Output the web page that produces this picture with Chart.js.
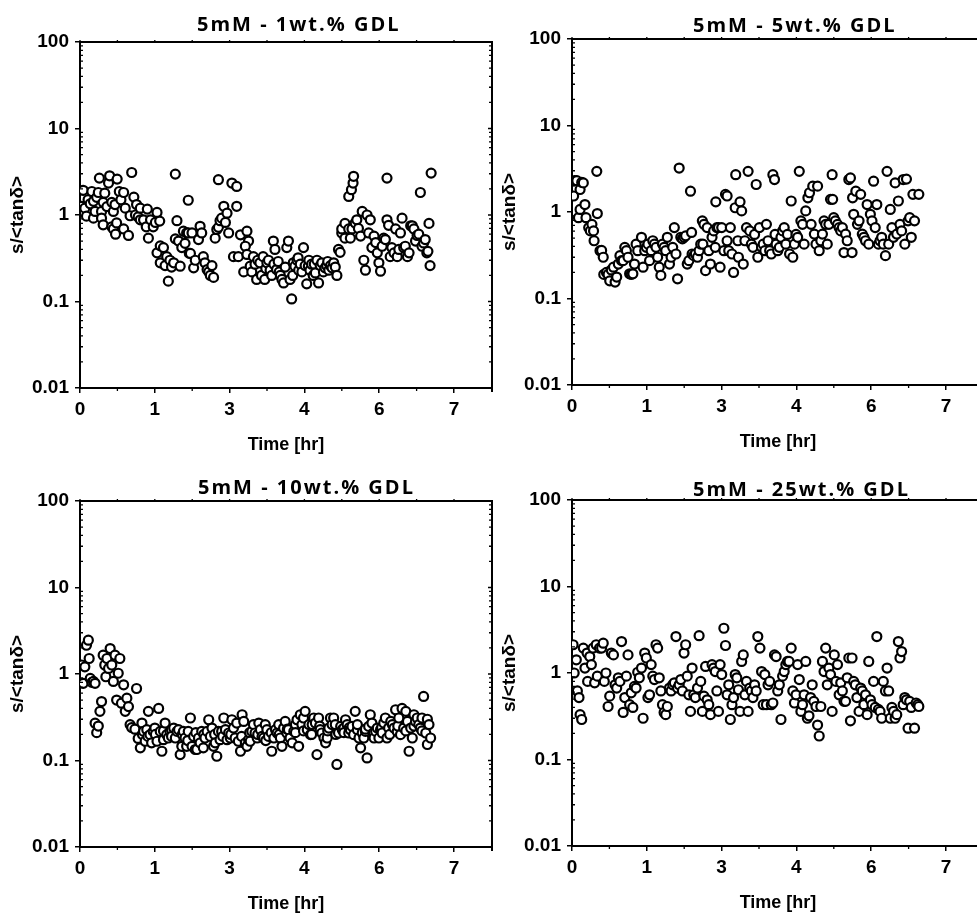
<!DOCTYPE html>
<html>
<head>
<meta charset="utf-8">
<title>s/&lt;tanδ&gt; vs time</title>
<script src="https://cdn.jsdelivr.net/npm/chart.js@4.4.1/dist/chart.umd.min.js"></script>
<style>
  html, body { margin: 0; padding: 0; background: #fff; overflow: hidden; }
  body { width: 977px; height: 918px; position: relative; }
  .panel { position: absolute; width: 500px; height: 470px; }
</style>
</head>
<body>
<div class="panel" style="left:0px;top:0px"><canvas id="p1" width="500" height="470"></canvas></div>
<div class="panel" style="left:492px;top:-3px"><canvas id="p2" width="500" height="470"></canvas></div>
<div class="panel" style="left:0px;top:459px"><canvas id="p3" width="500" height="470"></canvas></div>
<div class="panel" style="left:492px;top:458px"><canvas id="p4" width="500" height="470"></canvas></div>

<script>
// Axis ticks: one tick every 5000 s, labelled with the rounded hour
var tickSeconds = [0, 5000, 10000, 15000, 20000, 25000];
var tickLabels = ['0', '1', '3', '4', '6', '7'];
var yTicks = [0.01, 0.1, 1, 10, 100];
var yTickLabels = ['0.01', '0.1', '1', '10', '100'];

var panelTitles = ['5mM - 1wt.% GDL', '5mM - 5wt.% GDL', '5mM - 10wt.% GDL', '5mM - 25wt.% GDL'];

// [time in hours, s/<tan delta>]
var gdl1wt = [
  [0.03,1.26],[0.06,1.93],[0.09,1.2],[0.12,0.97],[0.15,1.5],[0.19,1.35],[0.22,1.87],[0.25,1.44],[0.25,0.92],[0.28,1.1],
  [0.31,1.6],[0.34,1.82],[0.36,2.67],[0.40,1.1],[0.40,0.92],[0.43,1.4],[0.43,0.77],[0.46,1.79],[0.50,1.25],[0.53,2.34],
  [0.55,2.84],[0.59,1.4],[0.59,0.73],[0.62,1.1],[0.62,0.69],[0.65,1.32],[0.66,0.6],[0.68,0.81],[0.69,2.6],[0.73,1.87],
  [0.76,1.5],[0.81,1.82],[0.81,0.69],[0.84,1.2],[0.90,0.58],[0.93,0.98],[0.96,3.1],[1.0,1.61],[1.03,1.0],[1.05,1.32],
  [1.08,0.95],[1.12,1.2],[1.12,0.88],[1.18,0.88],[1.23,0.73],[1.25,1.17],[1.27,0.54],[1.31,0.88],[1.36,0.73],[1.40,0.82],
  [1.43,1.07],[1.48,0.85],[1.43,0.365],[1.49,0.44],[1.49,0.28],[1.55,0.42],[1.58,0.26],[1.61,0.33],[1.64,0.172],[1.67,0.3],
  [1.70,0.25],[1.74,0.28],[1.77,2.97],[1.77,0.53],[1.80,0.86],[1.83,0.5],[1.86,0.256],[1.89,0.42],[1.92,0.65],[1.95,0.47],
  [1.98,0.62],[2.01,1.48],[2.01,0.62],[2.03,0.36],[2.05,0.36],[2.08,0.62],[2.11,0.245],[2.14,0.3],[2.20,0.52],[2.23,0.74],
  [2.26,0.62],[2.29,0.33],[2.32,0.28],[2.36,0.234],[2.39,0.22],[2.42,0.2],[2.45,0.26],[2.48,0.19],[2.51,0.54],[2.54,0.68],
  [2.57,0.72],[2.57,2.56],[2.60,0.86],[2.63,0.92],[2.67,1.26],[2.70,0.82],[2.73,1.05],[2.76,0.62],[2.82,2.34],[2.91,2.14],
  [2.91,1.26],[2.85,0.33],[2.94,0.33],[2.98,0.59],[3.10,0.65],[3.13,0.5],[3.07,0.435],[3.04,0.22],[3.10,0.35],[3.16,0.256],
  [3.19,0.22],[3.22,0.33],[3.25,0.27],[3.28,0.18],[3.30,0.3],[3.34,0.28],[3.37,0.2],[3.40,0.33],[3.43,0.18],[3.45,0.24],
  [3.47,0.28],[3.50,0.3],[3.53,0.23],[3.56,0.2],[3.59,0.5],[3.60,0.27],[3.62,0.4],[3.65,0.234],[3.68,0.29],[3.70,0.22],
  [3.72,0.2],[3.75,0.18],[3.78,0.164],[3.81,0.25],[3.84,0.42],[3.87,0.5],[3.90,0.18],[3.93,0.107],[3.95,0.2],[3.96,0.28],
  [3.99,0.256],[4.03,0.3],[4.05,0.32],[4.06,0.23],[4.09,0.27],[4.12,0.22],[4.15,0.42],[4.18,0.26],[4.21,0.16],[4.24,0.256],
  [4.25,0.3],[4.27,0.23],[4.30,0.27],[4.33,0.2],[4.35,0.27],[4.37,0.214],[4.40,0.3],[4.43,0.164],[4.46,0.26],[4.49,0.28],
  [4.52,0.22],[4.55,0.245],[4.58,0.26],[4.60,0.29],[4.62,0.23],[4.65,0.26],[4.68,0.245],[4.71,0.28],[4.74,0.25],[4.77,0.2],
  [4.80,0.4],[4.83,0.37],[4.86,0.62],[4.86,0.69],[4.92,0.8],[4.92,0.54],[4.99,0.69],[4.99,1.64],[5.04,1.96],[5.07,2.34],
  [5.08,2.8],[5.05,0.69],[5.02,0.54],[5.11,0.81],[5.14,0.88],[5.17,0.7],[5.21,0.57],[5.24,1.1],[5.27,0.3],[5.30,0.23],
  [5.33,1.0],[5.36,0.62],[5.39,0.88],[5.42,0.42],[5.46,0.57],[5.49,0.48],[5.52,0.365],[5.55,0.28],[5.58,0.224],[5.61,0.435],
  [5.64,0.54],[5.67,0.52],[5.70,0.88],[5.70,2.67],[5.73,0.76],[5.76,0.33],[5.79,0.42],[5.83,0.365],[5.86,0.69],[5.89,0.33],
  [5.92,0.4],[5.95,0.62],[5.98,0.92],[6.01,0.42],[6.04,0.435],[6.08,0.33],[6.11,0.365],[6.14,0.75],[6.17,0.75],[6.20,0.69],
  [6.23,0.5],[6.26,0.58],[6.29,0.6],[6.32,1.82],[6.35,0.435],[6.38,0.475],[6.41,0.52],[6.44,0.365],[6.46,0.38],[6.48,0.8],
  [6.50,0.26],[6.52,3.05]
];

var gdl5wt = [
  [0.03,1.53],[0.05,2.3],[0.09,2.3],[0.12,0.86],[0.15,1.82],[0.15,1.07],[0.18,2.2],[0.21,2.17],[0.24,1.22],[0.26,0.86],
  [0.31,0.66],[0.34,0.605],[0.37,0.72],[0.40,0.605],[0.41,0.465],[0.46,2.95],[0.47,0.96],[0.52,0.357],[0.55,0.36],[0.58,0.30],
  [0.59,0.19],[0.64,0.2],[0.67,0.19],[0.70,0.16],[0.73,0.214],[0.77,0.23],[0.80,0.155],[0.83,0.177],[0.86,0.25],[0.89,0.313],
  [0.92,0.274],[0.95,0.274],[0.98,0.39],[1.01,0.357],[1.04,0.30],[1.07,0.193],[1.10,0.19],[1.13,0.193],[1.16,0.25],[1.19,0.425],
  [1.22,0.357],[1.29,0.51],[1.32,0.23],[1.35,0.357],[1.38,0.39],[1.41,0.425],[1.44,0.274],[1.47,0.357],[1.50,0.465],[1.53,0.425],
  [1.56,0.39],[1.59,0.30],[1.62,0.23],[1.65,0.185],[1.68,0.425],[1.71,0.39],[1.74,0.357],[1.77,0.51],[1.81,0.25],[1.84,0.30],
  [1.87,0.39],[1.90,0.66],[1.93,0.327],[1.96,0.169],[1.99,3.22],[2.02,0.51],[2.05,0.49],[2.08,0.51],[2.11,0.53],[2.14,0.25],
  [2.17,0.274],[2.20,1.74],[2.22,0.58],[2.23,0.327],[2.26,0.313],[2.29,0.327],[2.33,0.30],[2.36,0.357],[2.39,0.425],[2.42,0.79],
  [2.43,0.425],[2.45,0.72],[2.48,0.21],[2.51,0.66],[2.54,0.357],[2.57,0.25],[2.60,0.51],[2.63,0.605],[2.66,0.39],[2.67,1.31],
  [2.69,0.66],[2.72,0.66],[2.75,0.23],[2.78,0.66],[2.82,0.357],[2.85,1.6],[2.88,1.53],[2.88,0.465],[2.91,0.357],[2.94,0.66],
  [2.97,0.327],[3.0,0.2],[3.03,1.12],[3.04,2.7],[3.08,0.465],[3.09,0.30],[3.12,1.31],[3.15,1.03],[3.18,0.25],[3.21,0.465],
  [3.24,0.66],[3.27,2.95],[3.30,0.605],[3.33,0.425],[3.36,0.39],[3.39,0.55],[3.42,2.08],[3.45,0.30],[3.48,0.66],[3.52,0.39],
  [3.55,0.425],[3.58,0.357],[3.61,0.72],[3.64,0.465],[3.67,0.357],[3.70,0.327],[3.73,2.7],[3.76,2.37],[3.77,0.55],[3.79,0.425],
  [3.82,0.357],[3.85,0.39],[3.88,0.51],[3.91,0.605],[3.94,0.66],[3.97,0.425],[4.0,0.55],[4.04,0.327],[4.07,1.34],[4.10,0.30],
  [4.13,0.425],[4.16,0.55],[4.19,0.51],[4.22,2.95],[4.25,0.79],[4.28,0.72],[4.31,0.425],[4.34,1.03],[4.38,1.46],[4.41,1.67],
  [4.44,0.72],[4.47,1.99],[4.50,0.555],[4.53,0.425],[4.56,1.99],[4.59,0.357],[4.62,0.465],[4.65,0.555],[4.68,0.79],[4.71,0.72],
  [4.74,0.425],[4.77,0.72],[4.80,1.40],[4.83,2.7],[4.84,1.40],[4.86,0.86],[4.89,0.79],[4.93,0.72],[4.96,0.66],[4.99,0.605],
  [5.02,0.66],[5.05,0.34],[5.08,0.555],[5.11,0.465],[5.14,2.37],[5.17,2.48],[5.20,0.34],[5.21,1.46],[5.23,0.94],[5.27,1.74],
  [5.30,0.72],[5.33,0.79],[5.36,1.6],[5.39,0.555],[5.42,0.51],[5.45,0.465],[5.48,1.22],[5.51,0.425],[5.54,0.94],[5.57,0.79],
  [5.60,2.27],[5.63,0.66],[5.66,1.22],[5.69,0.425],[5.72,0.465],[5.75,0.51],[5.78,0.425],[5.82,0.313],[5.85,2.95],[5.88,0.425],
  [5.91,1.07],[5.94,0.66],[5.97,0.51],[6.0,2.17],[6.03,0.555],[6.06,1.34],[6.09,0.72],[6.12,0.605],[6.15,2.37],[6.18,0.425],
  [6.21,2.4],[6.24,0.79],[6.27,0.86],[6.30,0.51],[6.33,1.6],[6.36,0.79],[6.44,1.6]
];

var gdl10wt = [
  [0.03,1.27],[0.06,0.78],[0.09,1.21],[0.12,2.15],[0.155,2.46],[0.17,1.51],[0.19,0.89],[0.22,0.8],[0.25,0.82],[0.28,0.27],
  [0.28,0.78],[0.31,0.21],[0.34,0.25],[0.37,0.37],[0.40,0.48],[0.43,1.65],[0.46,1.27],[0.48,0.93],[0.50,1.51],[0.53,1.16],
  [0.56,1.97],[0.59,1.27],[0.62,0.82],[0.65,1.65],[0.68,0.5],[0.71,1.02],[0.74,1.51],[0.77,0.46],[0.81,0.75],[0.84,0.37],
  [0.87,0.525],[0.90,0.42],[0.93,0.26],[0.96,0.24],[1.02,0.23],[1.05,0.68],[1.08,0.18],[1.12,0.14],[1.15,0.271],[1.16,0.2],
  [1.18,0.217],[1.21,0.167],[1.24,0.227],[1.26,0.19],[1.27,0.37],[1.30,0.199],[1.33,0.16],[1.36,0.217],[1.39,0.237],[1.40,0.2],
  [1.43,0.167],[1.46,0.40],[1.49,0.217],[1.52,0.128],[1.55,0.174],[1.55,0.22],[1.58,0.271],[1.61,0.199],[1.64,0.182],[1.67,0.217],
  [1.70,0.227],[1.70,0.19],[1.74,0.237],[1.77,0.182],[1.80,0.217],[1.83,0.227],[1.86,0.117],[1.89,0.146],[1.90,0.2],[1.92,0.217],
  [1.95,0.182],[1.98,0.146],[2.0,0.17],[2.01,0.217],[2.05,0.31],[2.08,0.146],[2.11,0.19],[2.14,0.134],[2.15,0.21],[2.17,0.134],
  [2.20,0.182],[2.23,0.16],[2.26,0.217],[2.29,0.14],[2.30,0.2],[2.32,0.182],[2.36,0.217],[2.39,0.296],[2.42,0.19],[2.45,0.237],
  [2.48,0.146],[2.50,0.2],[2.51,0.16],[2.54,0.112],[2.57,0.217],[2.60,0.174],[2.63,0.217],[2.65,0.19],[2.67,0.31],[2.70,0.227],
  [2.73,0.174],[2.76,0.208],[2.79,0.182],[2.80,0.2],[2.82,0.296],[2.85,0.237],[2.88,0.182],[2.91,0.271],[2.94,0.167],[2.98,0.128],
  [3.0,0.19],[3.01,0.338],[3.04,0.283],[3.07,0.16],[3.10,0.146],[3.13,0.174],[3.15,0.21],[3.16,0.167],[3.19,0.217],[3.22,0.26],
  [3.25,0.208],[3.29,0.182],[3.30,0.2],[3.32,0.271],[3.35,0.227],[3.38,0.19],[3.41,0.182],[3.44,0.26],[3.45,0.17],[3.47,0.227],
  [3.50,0.19],[3.55,0.21],[3.56,0.128],[3.60,0.182],[3.63,0.227],[3.66,0.208],[3.69,0.26],[3.70,0.2],[3.72,0.182],[3.75,0.146],
  [3.78,0.237],[3.81,0.283],[3.84,0.208],[3.85,0.23],[3.87,0.227],[3.90,0.182],[3.94,0.16],[3.97,0.217],[4.0,0.26],[4.0,0.21],
  [4.03,0.296],[4.06,0.146],[4.09,0.338],[4.12,0.26],[4.15,0.31],[4.15,0.22],[4.18,0.37],[4.22,0.227],[4.25,0.26],[4.28,0.199],
  [4.30,0.2],[4.31,0.26],[4.34,0.31],[4.37,0.271],[4.40,0.117],[4.43,0.31],[4.45,0.25],[4.46,0.227],[4.49,0.208],[4.53,0.182],
  [4.56,0.16],[4.59,0.182],[4.60,0.22],[4.62,0.237],[4.65,0.31],[4.68,0.26],[4.71,0.31],[4.74,0.26],[4.75,0.2],[4.77,0.09],
  [4.80,0.208],[4.84,0.248],[4.87,0.227],[4.90,0.237],[4.90,0.21],[4.93,0.296],[4.96,0.26],[4.99,0.208],[5.0,0.24],[5.02,0.227],
  [5.05,0.248],[5.08,0.199],[5.11,0.37],[5.15,0.227],[5.15,0.26],[5.18,0.182],[5.21,0.14],[5.24,0.208],[5.27,0.182],[5.30,0.217],
  [5.30,0.23],[5.33,0.107],[5.36,0.248],[5.39,0.338],[5.42,0.271],[5.45,0.21],[5.46,0.182],[5.49,0.217],[5.52,0.237],[5.55,0.182],
  [5.58,0.227],[5.60,0.24],[5.61,0.208],[5.64,0.271],[5.67,0.31],[5.70,0.182],[5.73,0.237],[5.75,0.2],[5.77,0.283],[5.80,0.26],
  [5.83,0.237],[5.86,0.386],[5.89,0.217],[5.90,0.25],[5.92,0.31],[5.95,0.199],[5.98,0.40],[6.01,0.237],[6.05,0.37],[6.05,0.22],
  [6.08,0.283],[6.11,0.128],[6.14,0.237],[6.17,0.182],[6.20,0.338],[6.20,0.25],[6.23,0.283],[6.26,0.31],[6.29,0.26],[6.32,0.237],
  [6.35,0.31],[6.35,0.22],[6.38,0.55],[6.42,0.208],[6.45,0.153],[6.45,0.3],[6.48,0.26],[6.51,0.182]
];

var gdl25wt = [
  [0.02,2.12],[0.04,1.0],[0.08,1.42],[0.10,0.62],[0.13,0.52],[0.15,0.33],[0.18,0.29],[0.21,1.94],[0.24,1.14],[0.28,1.70],
  [0.29,0.80],[0.33,1.55],[0.36,1.25],[0.39,1.94],[0.42,0.77],[0.45,2.12],[0.47,0.92],[0.51,1.94],[0.55,1.94],[0.58,2.21],
  [0.60,0.80],[0.63,1.0],[0.67,0.41],[0.70,0.54],[0.73,1.70],[0.77,1.62],[0.80,0.73],[0.83,0.67],[0.86,0.88],[0.89,0.80],
  [0.92,2.31],[0.95,0.35],[0.98,0.52],[1.01,0.92],[1.04,1.62],[1.07,0.43],[1.10,0.59],[1.13,0.40],[1.16,0.70],[1.19,0.67],
  [1.22,1.02],[1.25,0.88],[1.29,1.14],[1.32,0.30],[1.35,1.70],[1.38,1.49],[1.41,0.52],[1.44,0.56],[1.47,1.25],[1.50,0.92],
  [1.53,0.84],[1.56,2.12],[1.59,1.94],[1.62,0.88],[1.65,0.62],[1.68,0.43],[1.71,0.35],[1.74,0.33],[1.77,0.41],[1.81,0.67],
  [1.84,0.62],[1.87,0.73],[1.90,0.77],[1.93,2.64],[1.96,0.67],[1.99,0.73],[2.02,0.84],[2.05,0.62],[2.08,1.70],[2.11,2.12],
  [2.14,0.92],[2.17,0.56],[2.20,0.36],[2.23,1.14],[2.26,0.56],[2.29,0.52],[2.33,0.67],[2.36,2.7],[2.39,0.80],[2.42,0.36],
  [2.45,0.54],[2.48,1.19],[2.51,0.49],[2.54,0.43],[2.57,0.33],[2.60,1.25],[2.63,1.14],[2.66,1.04],[2.69,0.62],[2.72,0.36],
  [2.75,1.25],[2.78,0.96],[2.82,3.29],[2.85,2.08],[2.88,0.56],[2.91,0.73],[2.94,0.29],[2.97,0.43],[3.0,0.52],[3.03,0.96],
  [3.06,0.88],[3.09,0.64],[3.12,0.36],[3.15,1.36],[3.18,1.62],[3.21,0.56],[3.24,0.80],[3.27,0.36],[3.30,0.67],[3.33,0.62],
  [3.36,0.52],[3.39,0.73],[3.42,0.62],[3.45,2.64],[3.49,1.94],[3.52,1.04],[3.55,0.43],[3.58,0.96],[3.61,0.43],[3.64,0.73],
  [3.67,0.80],[3.70,0.43],[3.73,0.45],[3.76,1.62],[3.79,1.55],[3.82,0.62],[3.85,0.73],[3.88,0.29],[3.91,0.92],[3.94,1.04],
  [3.97,1.25],[4.0,1.36],[4.03,1.36],[4.07,1.94],[4.10,0.62],[4.13,0.45],[4.16,0.56],[4.19,1.25],[4.22,0.84],[4.25,0.36],
  [4.28,0.43],[4.31,0.56],[4.34,1.36],[4.37,0.30],[4.40,0.32],[4.43,0.52],[4.46,0.73],[4.49,0.47],[4.53,0.41],[4.56,0.25],
  [4.59,0.187],[4.62,0.41],[4.65,1.36],[4.68,1.04],[4.71,1.94],[4.74,0.73],[4.77,1.14],[4.80,0.96],[4.83,0.36],[4.87,1.62],
  [4.90,0.80],[4.93,1.25],[4.96,0.56],[4.99,0.77],[5.02,0.62],[5.05,0.47],[5.08,0.47],[5.11,0.88],[5.14,1.49],[5.17,0.28],
  [5.20,1.49],[5.23,0.80],[5.26,0.73],[5.29,0.52],[5.33,0.36],[5.36,0.67],[5.39,0.62],[5.42,0.43],[5.45,0.56],[5.48,0.33],
  [5.51,1.36],[5.54,0.49],[5.57,0.43],[5.60,0.80],[5.63,0.40],[5.66,2.64],[5.69,0.38],[5.72,0.36],[5.75,0.30],[5.78,0.80],
  [5.82,0.62],[5.85,1.14],[5.88,0.62],[5.91,0.30],[5.94,0.40],[5.97,0.36],[6.0,0.30],[6.03,0.33],[6.06,2.31],[6.09,1.49],
  [6.12,1.77],[6.15,0.43],[6.18,0.52],[6.21,0.49],[6.24,0.23],[6.27,0.47],[6.30,0.40],[6.36,0.23],[6.39,0.45],[6.42,0.43],
  [6.44,0.41]
];

var axisFont = "'Liberation Sans', Arial, sans-serif";

// Title above each plot, left aligned at a fixed offset from the plot's left edge
var panelTitle = {
    id: 'panelTitle',
    afterDraw: function (chart, args, opts) {
        var ctx = chart.ctx;
        var a = chart.chartArea;
        ctx.save();
        ctx.font = 'bold 20px "Open Sans", "Noto Sans", sans-serif';
        ctx.letterSpacing = '2px';
        ctx.fillStyle = '#000';
        ctx.textAlign = 'left';
        ctx.textBaseline = 'alphabetic';
        ctx.fillText(opts.text, a.left + opts.dx, a.top - opts.gap);
        ctx.restore();
    }
};

// Closed frame: top/right edges, minor ticks on the log axis, minor ticks on time axis
var frameTicks = {
    id: 'frameTicks',
    afterDatasetsDraw: function (chart) {
        var ctx = chart.ctx;
        var a = chart.chartArea;
        var x = chart.scales.x;
        var y = chart.scales.y;
        ctx.save();
        ctx.strokeStyle = '#000';
        ctx.lineWidth = 2;
        ctx.beginPath();
        ctx.moveTo(a.left, a.top);
        ctx.lineTo(a.right, a.top);
        ctx.lineTo(a.right, a.bottom + 4);
        ctx.stroke();

        ctx.lineWidth = 1.3;
        ctx.beginPath();
        for (var d = -2; d < 2; d++) {
            for (var m = 2; m <= 9; m++) {
                var py = y.getPixelForValue(m * Math.pow(10, d));
                ctx.moveTo(a.left, py); ctx.lineTo(a.left + 3, py);
                ctx.moveTo(a.right, py); ctx.lineTo(a.right - 3, py);
            }
        }
        yTicks.forEach(function (v) {
            var py = y.getPixelForValue(v);
            ctx.moveTo(a.right, py); ctx.lineTo(a.right - 4, py);
        });
        for (var k = 0; k < tickSeconds.length; k++) {
            var px = x.getPixelForValue(tickSeconds[k] / 3600);
            ctx.moveTo(px, a.top); ctx.lineTo(px, a.top - 2);
            var mid = x.getPixelForValue((tickSeconds[k] + 2500) / 3600);
            if (mid < a.right - 2) {
                ctx.moveTo(mid, a.bottom); ctx.lineTo(mid, a.bottom + 3);
                ctx.moveTo(mid, a.top); ctx.lineTo(mid, a.top - 2);
            }
        }
        ctx.stroke();
        ctx.restore();
    }
};

function dibujarPanel(id, datos, titulo, dx, gap) {
    var ctx = document.getElementById(id).getContext('2d');
    new Chart(ctx, {
        type: 'scatter',
        data: {
            datasets: [{
                data: datos.map(function (p) { return { x: p[0], y: p[1] }; }),
                pointRadius: 4.5,
                pointBorderWidth: 2.2,
                borderColor: '#000',
                backgroundColor: '#fff',
                pointStyle: 'circle'
            }]
        },
        options: {
            responsive: false,
            animation: false,
            devicePixelRatio: 1,
            layout: { padding: { top: 42, right: 8, left: 0, bottom: 0 } },
            plugins: {
                legend: { display: false },
                tooltip: { enabled: false },
                panelTitle: { text: titulo, dx: dx, gap: gap }
            },
            scales: {
                x: {
                    type: 'linear',
                    min: 0,
                    max: 7.65,
                    afterBuildTicks: function (scale) {
                        scale.ticks = tickSeconds.map(function (s) { return { value: s / 3600 }; });
                    },
                    afterFit: function (scale) { scale.height = 82; },
                    border: { color: '#000', width: 2 },
                    grid: { drawOnChartArea: false, drawTicks: true, tickLength: 5, color: '#000', lineWidth: 1.5 },
                    ticks: {
                        autoSkip: false,
                        maxRotation: 0,
                        padding: 5,
                        color: '#000',
                        font: { family: axisFont, size: 19, weight: 'bold' },
                        callback: function (value, index) { return tickLabels[index]; }
                    },
                    title: {
                        display: true,
                        text: 'Time [hr]',
                        color: '#000',
                        font: { family: axisFont, size: 18, weight: 'bold' },
                        padding: { top: 0, bottom: 14 }
                    }
                },
                y: {
                    type: 'logarithmic',
                    min: 0.01,
                    max: 100,
                    afterBuildTicks: function (scale) {
                        scale.ticks = yTicks.map(function (v) { return { value: v }; });
                    },
                    afterFit: function (scale) { scale.width = 80; },
                    border: { color: '#000', width: 2 },
                    grid: { drawOnChartArea: false, drawTicks: true, tickLength: 5, color: '#000', lineWidth: 1.5 },
                    ticks: {
                        autoSkip: false,
                        padding: 6,
                        color: '#000',
                        font: { family: axisFont, size: 19, weight: 'bold' },
                        callback: function (value, index) { return yTickLabels[index]; }
                    },
                    title: {
                        display: true,
                        text: 's/<tanδ>',
                        color: '#000',
                        font: { family: axisFont, size: 19, weight: 'bold' },
                        padding: { top: 6, bottom: 0 }
                    }
                }
            }
        },
        plugins: [frameTicks, panelTitle]
    });
}

document.addEventListener('DOMContentLoaded', function () {
    dibujarPanel('p1', gdl1wt, panelTitles[0], 117, 11);
    dibujarPanel('p2', gdl5wt, panelTitles[1], 121, 7);
    dibujarPanel('p3', gdl10wt, panelTitles[2], 118, 7);
    dibujarPanel('p4', gdl25wt, panelTitles[3], 121, 4);
});
</script>
</body>
</html>
